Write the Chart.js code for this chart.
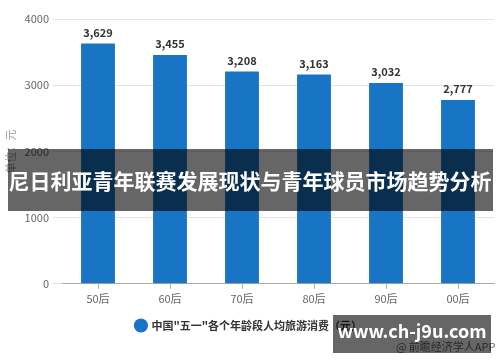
<!DOCTYPE html>
<html><head><meta charset="utf-8">
<script src="https://cdn.jsdelivr.net/npm/chart.js@4"></script>
<style>html,body{margin:0;padding:0;background:#fff}#wrap{width:500px;height:362px;position:relative}</style>
</head><body><div id="wrap"><canvas id="c" width="500" height="362"></canvas></div>
<script>
const categories = ["50后","60后","70后","80后","90后","00后"];
const values = [3629,3455,3208,3163,3032,2777];
const yTicks = [0,1000,2000,3000,4000];
const seriesName = '中国"五一"各个年龄段人均旅游消费（元）';
const yTitle = "单位：元";
const bannerText = "尼日利亚青年联赛发展现状与青年球员市场趋势分析";
const siteText = "www.ch-j9u.com";
const sourceText = "@ 前瞻经济学人APP";
const FONT = "'Noto Sans CJK SC','Microsoft YaHei',sans-serif";

const overlay = {
  id:'overlay',
  afterDatasetsDraw(chart){
    const ctx = chart.ctx, meta = chart.getDatasetMeta(0);
    ctx.save();
    ctx.font = "bold 11px " + FONT;
    ctx.fillStyle = "#333";
    ctx.textAlign = "center"; ctx.textBaseline = "middle";
    meta.data.forEach((b,i)=>{
      ctx.fillText(values[i].toLocaleString('en-US'), b.x, b.y - 11);
    });
    ctx.restore();
  },
  afterDraw(chart){
    const ctx = chart.ctx;
    ctx.save();
    ctx.font = "11px " + FONT;
    ctx.fillStyle = "#666";
    ctx.textAlign = "left"; ctx.textBaseline = "middle";
    ctx.fillText(sourceText, 396, 347);
    ctx.fillStyle = "rgba(0,0,0,0.6)";
    ctx.fillRect(8,149,485,62);
    ctx.fillStyle = "#fff";
    ctx.font = "bold 21px " + FONT;
    ctx.textAlign = "center"; ctx.textBaseline = "middle";
    ctx.fillText(bannerText, 250, 181);
    ctx.fillStyle = "rgba(0,0,0,0.6)";
    ctx.fillRect(333,315,158,38);
    ctx.fillStyle = "#fff";
    ctx.font = "bold 18px " + FONT;
    ctx.fillText(siteText, 412, 331);
    ctx.restore();
  }
};

new Chart(document.getElementById('c'), {
  type:'bar',
  data:{labels:categories, datasets:[{label:seriesName, data:values, backgroundColor:'#1874C4',
    categoryPercentage:0.94, barPercentage:0.5}]},
  options:{
    responsive:false, animation:false, devicePixelRatio:1,
    layout:{padding:{top:19,right:6,left:4,bottom:21}},
    plugins:{
      legend:{position:'bottom', labels:{usePointStyle:true, pointStyle:'circle', boxWidth:10, boxHeight:10,
        color:'#333', font:{family:FONT, size:11, weight:'bold'}, padding:12}},
      tooltip:{enabled:false}
    },
    scales:{
      x:{grid:{drawOnChartArea:false, offset:false, tickLength:5, color:'#aaa'},
        border:{color:'#aaa'},
        ticks:{color:'#666', font:{family:FONT,size:11}, padding:3}},
      y:{min:0,max:4000, afterFit(s){s.width=58;},
        afterBuildTicks(s){s.ticks = yTicks.map(v=>({value:v}));},
        grid:{color:'#e3e3e3', tickLength:9},
        border:{display:false},
        ticks:{color:'#666', font:{family:FONT,size:11}, padding:4, callback:v=>String(v)},
        title:{display:true, text:yTitle, color:'#999', font:{family:FONT,size:11}, padding:0}}
    }
  },
  plugins:[overlay]
});
</script></body></html>
